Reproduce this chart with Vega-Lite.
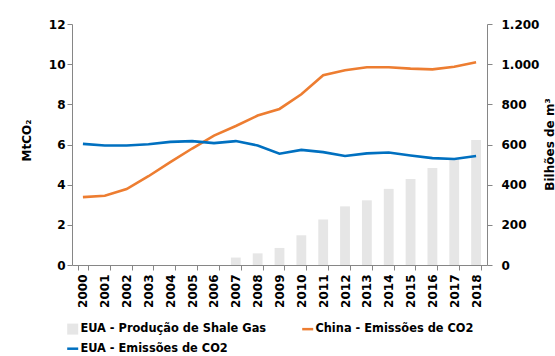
{
  "$schema": "https://vega.github.io/schema/vega-lite/v6.json",
  "width": 415,
  "height": 241,
  "autosize": {"type": "none"},
  "padding": {"left": 72, "top": 24, "right": 68, "bottom": 91},
  "background": "white",
  "config": {
    "view": {"stroke": null},
    "font": "DejaVu Sans",
    "axis": {
      "labelFont": "DejaVu Sans",
      "labelFontSize": 12,
      "labelFontWeight": "bold",
      "labelColor": "black",
      "titleFont": "DejaVu Sans",
      "titleFontSize": 12,
      "titleFontWeight": "bold",
      "titleColor": "black",
      "domainColor": "#868686",
      "tickColor": "#868686",
      "tickSize": 5,
      "grid": false
    }
  },
  "data": {
    "values": [
      {"year": 2000, "series": "China - Emissões de CO2", "value": 3.38},
      {"year": 2001, "series": "China - Emissões de CO2", "value": 3.45},
      {"year": 2002, "series": "China - Emissões de CO2", "value": 3.78},
      {"year": 2003, "series": "China - Emissões de CO2", "value": 4.42},
      {"year": 2004, "series": "China - Emissões de CO2", "value": 5.12},
      {"year": 2005, "series": "China - Emissões de CO2", "value": 5.8},
      {"year": 2006, "series": "China - Emissões de CO2", "value": 6.44},
      {"year": 2007, "series": "China - Emissões de CO2", "value": 6.92},
      {"year": 2008, "series": "China - Emissões de CO2", "value": 7.44},
      {"year": 2009, "series": "China - Emissões de CO2", "value": 7.77},
      {"year": 2010, "series": "China - Emissões de CO2", "value": 8.5},
      {"year": 2011, "series": "China - Emissões de CO2", "value": 9.45},
      {"year": 2012, "series": "China - Emissões de CO2", "value": 9.7},
      {"year": 2013, "series": "China - Emissões de CO2", "value": 9.85},
      {"year": 2014, "series": "China - Emissões de CO2", "value": 9.85},
      {"year": 2015, "series": "China - Emissões de CO2", "value": 9.78},
      {"year": 2016, "series": "China - Emissões de CO2", "value": 9.74},
      {"year": 2017, "series": "China - Emissões de CO2", "value": 9.87},
      {"year": 2018, "series": "China - Emissões de CO2", "value": 10.1},
      {"year": 2000, "series": "EUA - Emissões de CO2", "value": 6.03},
      {"year": 2001, "series": "EUA - Emissões de CO2", "value": 5.95},
      {"year": 2002, "series": "EUA - Emissões de CO2", "value": 5.95},
      {"year": 2003, "series": "EUA - Emissões de CO2", "value": 6.01},
      {"year": 2004, "series": "EUA - Emissões de CO2", "value": 6.13},
      {"year": 2005, "series": "EUA - Emissões de CO2", "value": 6.17},
      {"year": 2006, "series": "EUA - Emissões de CO2", "value": 6.07},
      {"year": 2007, "series": "EUA - Emissões de CO2", "value": 6.17},
      {"year": 2008, "series": "EUA - Emissões de CO2", "value": 5.95},
      {"year": 2009, "series": "EUA - Emissões de CO2", "value": 5.54},
      {"year": 2010, "series": "EUA - Emissões de CO2", "value": 5.73},
      {"year": 2011, "series": "EUA - Emissões de CO2", "value": 5.62},
      {"year": 2012, "series": "EUA - Emissões de CO2", "value": 5.43},
      {"year": 2013, "series": "EUA - Emissões de CO2", "value": 5.56},
      {"year": 2014, "series": "EUA - Emissões de CO2", "value": 5.6},
      {"year": 2015, "series": "EUA - Emissões de CO2", "value": 5.45},
      {"year": 2016, "series": "EUA - Emissões de CO2", "value": 5.32},
      {"year": 2017, "series": "EUA - Emissões de CO2", "value": 5.28},
      {"year": 2018, "series": "EUA - Emissões de CO2", "value": 5.43},
      {"year": 2007, "series": "EUA - Produção de Shale Gas", "value": 37},
      {"year": 2008, "series": "EUA - Produção de Shale Gas", "value": 58},
      {"year": 2009, "series": "EUA - Produção de Shale Gas", "value": 85},
      {"year": 2010, "series": "EUA - Produção de Shale Gas", "value": 148},
      {"year": 2011, "series": "EUA - Produção de Shale Gas", "value": 226},
      {"year": 2012, "series": "EUA - Produção de Shale Gas", "value": 292},
      {"year": 2013, "series": "EUA - Produção de Shale Gas", "value": 322},
      {"year": 2014, "series": "EUA - Produção de Shale Gas", "value": 379},
      {"year": 2015, "series": "EUA - Produção de Shale Gas", "value": 428},
      {"year": 2016, "series": "EUA - Produção de Shale Gas", "value": 483},
      {"year": 2017, "series": "EUA - Produção de Shale Gas", "value": 525},
      {"year": 2018, "series": "EUA - Produção de Shale Gas", "value": 622}
    ]
  },
  "encoding": {
    "x": {
      "field": "year",
      "type": "ordinal",
      "scale": {"domain": [2000,2001,2002,2003,2004,2005,2006,2007,2008,2009,2010,2011,2012,2013,2014,2015,2016,2017,2018], "paddingInner": 0.55, "paddingOuter": 0.275},
      "axis": {"title": null, "labelAngle": -90, "tickBand": "extent", "labelPadding": 4}
    }
  },
  "layer": [
    {
      "transform": [{"filter": "datum.series === 'EUA - Produção de Shale Gas'"}],
      "mark": {"type": "bar"},
      "encoding": {
        "y": {
          "field": "value",
          "type": "quantitative",
          "scale": {"domain": [0, 1200]},
          "axis": {
            "orient": "right",
            "values": [0, 200, 400, 600, 800, 1000, 1200],
            "labelExpr": "replace(format(datum.value, ','), ',', '.')",
            "labelPadding": 9,
            "title": "Bilhões de m³",
            "titleAngle": 270,
            "titleX": 62,
            "titleY": 120,
            "titleAlign": "center",
            "titleBaseline": "middle"
          }
        },
        "color": {
          "field": "series",
          "type": "nominal",
          "scale": {
            "domain": ["EUA - Produção de Shale Gas", "China - Emissões de CO2", "EUA - Emissões de CO2"],
            "range": ["#E6E6E6", "#ED7D31", "#0070C0"]
          },
          "legend": {
            "orient": "none",
            "legendX": -5,
            "legendY": 299,
            "columns": 2,
            "direction": "horizontal",
            "title": null,
            "labelFont": "DejaVu Sans",
            "labelFontSize": 11.4,
            "labelFontWeight": "bold",
            "labelColor": "black",
            "columnPadding": 30,
            "rowPadding": 7,
            "symbolSize": 121,
            "symbolOffset": 0,
            "labelOffset": 2,
            "labelLimit": 300,
            "encode": {
              "symbols": {
                "update": {
                  "shape": {"signal": "datum.value === 'EUA - Produção de Shale Gas' ? 'square' : 'stroke'"},
                  "strokeWidth": {"signal": "datum.value === 'EUA - Produção de Shale Gas' ? 0 : 2.5"},
                  "fill": {"scale": "color", "field": "value"},
                  "stroke": {"scale": "color", "field": "value"},
                  "opacity": {"value": 1}
                }
              }
            }
          }
        }
      }
    },
    {
      "transform": [{"filter": "datum.series !== 'EUA - Produção de Shale Gas'"}],
      "mark": {"type": "line", "strokeWidth": 2.6},
      "encoding": {
        "y": {
          "field": "value",
          "type": "quantitative",
          "scale": {"domain": [0, 12]},
          "axis": {
            "orient": "left",
            "values": [0, 2, 4, 6, 8, 10, 12],
            "labelPadding": 2,
            "title": "MtCO₂",
            "titleAngle": 270,
            "titleX": -46,
            "titleY": 116,
            "titleAlign": "center",
            "titleBaseline": "middle"
          }
        },
        "color": {"field": "series", "type": "nominal"}
      }
    }
  ],
  "resolve": {"scale": {"y": "independent"}}
}
